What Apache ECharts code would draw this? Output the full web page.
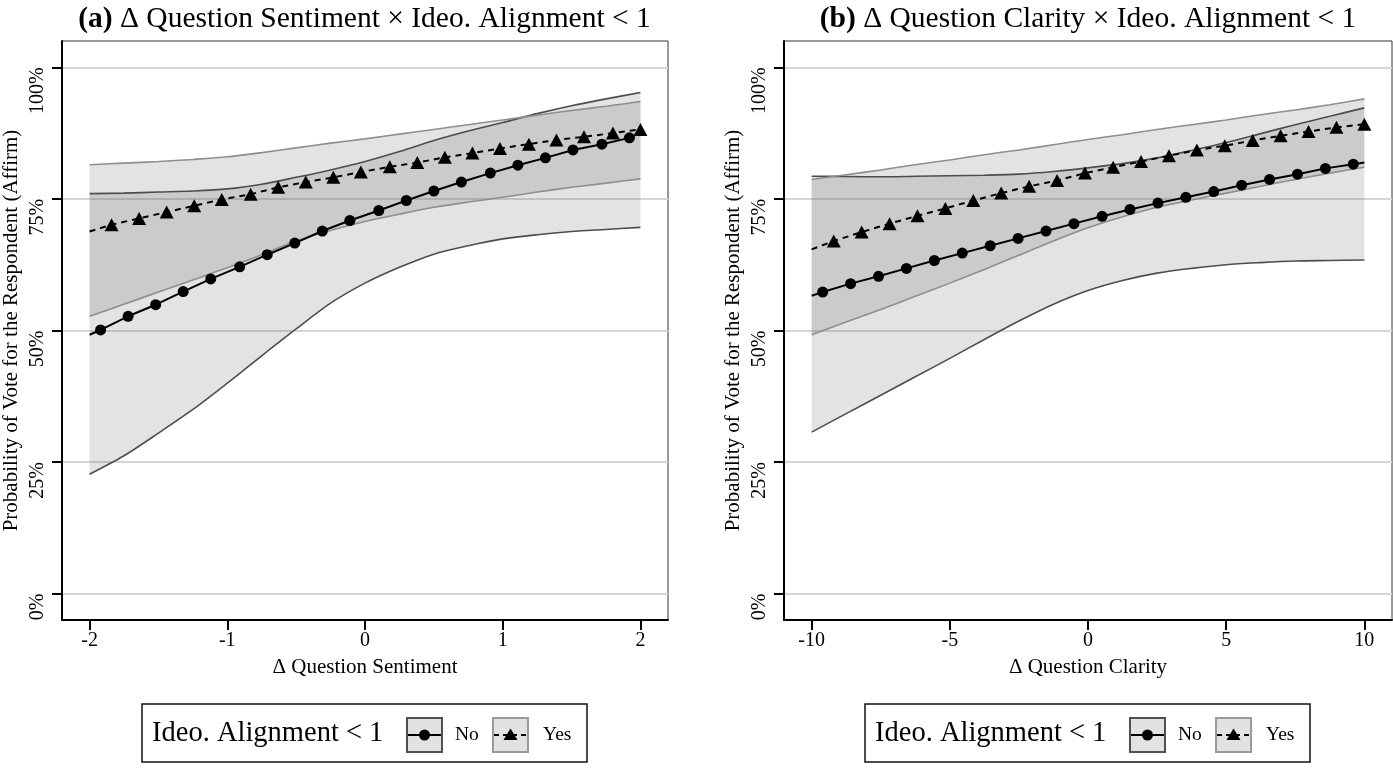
<!DOCTYPE html>
<html>
<head>
<meta charset="utf-8">
<script src="https://cdn.jsdelivr.net/npm/echarts@6/dist/echarts.min.js"></script>
<style>
  html, body { margin: 0; padding: 0; background: #fff; }
  #main { width: 1393px; height: 768px; }
</style>
</head>
<body>
<div id="main"></div>
<script>
// ---- panel (a): Δ Question Sentiment ----
const sentTicks = [-2, -1, 0, 1, 2];
const sentBandX = [-2, -1.75, -1.5, -1.25, -1, -0.75, -0.5, -0.25, 0, 0.25, 0.5, 0.75, 1, 1.25, 1.5, 1.75, 2];
const sentNoLo  = [0.227, 0.262, 0.305, 0.350, 0.400, 0.452, 0.503, 0.552, 0.590, 0.620, 0.645, 0.661, 0.674, 0.682, 0.688, 0.692, 0.696];
const sentNoHi  = [0.760, 0.761, 0.763, 0.765, 0.769, 0.778, 0.791, 0.805, 0.821, 0.840, 0.861, 0.879, 0.895, 0.912, 0.927, 0.940, 0.952];
const sentYesLo = [0.527, 0.550, 0.573, 0.596, 0.619, 0.644, 0.670, 0.690, 0.707, 0.721, 0.734, 0.744, 0.753, 0.763, 0.772, 0.780, 0.788];
const sentYesHi = [0.815, 0.818, 0.821, 0.825, 0.830, 0.838, 0.847, 0.856, 0.864, 0.873, 0.882, 0.891, 0.900, 0.909, 0.918, 0.926, 0.935];
const sentNoX   = [-1.92, -1.72, -1.52, -1.32, -1.12, -0.91, -0.71, -0.51, -0.31, -0.11, 0.10, 0.30, 0.50, 0.70, 0.91, 1.11, 1.31, 1.51, 1.72, 1.92];
const sentNoY   = [0.501, 0.527, 0.549, 0.574, 0.598, 0.621, 0.644, 0.666, 0.689, 0.709, 0.728, 0.747, 0.765, 0.782, 0.799, 0.814, 0.828, 0.843, 0.854, 0.866];
const sentNoEnds = [[-2, 0.492], [2, 0.876]];
const sentYesX  = [-1.84, -1.64, -1.44, -1.24, -1.04, -0.83, -0.63, -0.43, -0.23, -0.03, 0.18, 0.38, 0.58, 0.78, 0.98, 1.19, 1.39, 1.59, 1.80, 2.00];
const sentYesY  = [0.701, 0.713, 0.725, 0.737, 0.749, 0.759, 0.772, 0.782, 0.791, 0.801, 0.811, 0.819, 0.829, 0.837, 0.846, 0.854, 0.862, 0.868, 0.875, 0.882];
const sentYesStart = [-2, 0.688];

// ---- panel (b): Δ Question Clarity ----
const clarTicks = [-10, -5, 0, 5, 10];
const clarBandX = [-10, -8.75, -7.5, -6.25, -5, -3.75, -2.5, -1.25, 0, 1.25, 2.5, 3.75, 5, 6.25, 7.5, 8.75, 10];
const clarNoLo  = [0.307, 0.342, 0.377, 0.412, 0.447, 0.483, 0.518, 0.550, 0.576, 0.595, 0.609, 0.618, 0.625, 0.629, 0.632, 0.633, 0.634];
const clarNoHi  = [0.793, 0.7925, 0.792, 0.793, 0.794, 0.795, 0.797, 0.802, 0.809, 0.817, 0.828, 0.842, 0.857, 0.874, 0.891, 0.907, 0.923];
const clarYesLo = [0.492, 0.516, 0.540, 0.565, 0.590, 0.616, 0.643, 0.670, 0.695, 0.716, 0.734, 0.748, 0.761, 0.774, 0.787, 0.799, 0.810];
const clarYesHi = [0.787, 0.796, 0.805, 0.815, 0.824, 0.834, 0.843, 0.853, 0.863, 0.872, 0.882, 0.891, 0.900, 0.910, 0.919, 0.929, 0.940];
const clarNoX   = [-9.6, -8.59, -7.58, -6.57, -5.56, -4.55, -3.54, -2.53, -1.52, -0.51, 0.51, 1.52, 2.53, 3.54, 4.55, 5.56, 6.57, 7.58, 8.59, 9.6];
const clarNoY   = [0.573, 0.589, 0.603, 0.618, 0.633, 0.647, 0.661, 0.675, 0.689, 0.703, 0.717, 0.730, 0.742, 0.753, 0.764, 0.776, 0.787, 0.797, 0.808, 0.816];
const clarNoEnds = [[-10, 0.566], [10, 0.819]];
const clarYesX  = [-9.2, -8.19, -7.18, -6.17, -5.16, -4.15, -3.14, -2.13, -1.12, -0.11, 0.91, 1.92, 2.93, 3.94, 4.95, 5.96, 6.97, 7.98, 8.99, 10.0];
const clarYesY  = [0.670, 0.687, 0.703, 0.718, 0.732, 0.747, 0.761, 0.774, 0.785, 0.799, 0.810, 0.821, 0.832, 0.843, 0.851, 0.861, 0.870, 0.878, 0.886, 0.892];
const clarYesStart = [-10, 0.654];

const yTicks = [0, 0.25, 0.5, 0.75, 1];

const FONT = '"Liberation Serif", "DejaVu Serif", serif';
const DARK = '#4d4d4d';
const LIGHT = '#8e8e8e';
const FILL = 'rgba(90,90,90,0.17)';

function zip(xs, ys) { return xs.map((x, i) => [x, ys[i]]); }

// confidence band: filled polygon (custom series) + its two bound lines
function band(idx, xs, lo, hi, color) {
  const fill = {
    type: 'custom', xAxisIndex: idx, yAxisIndex: idx, silent: true, z: 1,
    data: xs.map((x, i) => [x, lo[i], hi[i]]),
    encode: { x: 0, y: [1, 2] },
    renderItem: (params, api) => {
      if (params.dataIndex !== 0) return null;
      const top = xs.map((x, i) => api.coord([x, hi[i]]));
      const bot = xs.map((x, i) => api.coord([x, lo[i]])).reverse();
      return { type: 'polygon', shape: { points: top.concat(bot) }, style: { fill: FILL } };
    }
  };
  const edge = ys => ({
    type: 'line', xAxisIndex: idx, yAxisIndex: idx, data: zip(xs, ys),
    symbol: 'none', smooth: 0.3, silent: true, z: 3,
    lineStyle: { color: color, width: 1.6 }
  });
  return [fill, edge(lo), edge(hi)];
}

function noLine(idx, xs, ys, ends) {
  const pts = zip(xs, ys).map(p => ({ value: p }));
  pts.unshift({ value: ends[0], symbol: 'none' });
  pts.push({ value: ends[1], symbol: 'none' });
  return {
    type: 'line', xAxisIndex: idx, yAxisIndex: idx, data: pts, z: 5,
    symbol: 'circle', symbolSize: 11, showAllSymbol: true,
    lineStyle: { color: '#000', width: 2 }, itemStyle: { color: '#000' }
  };
}

function yesLine(idx, xs, ys, start) {
  const pts = zip(xs, ys).map(p => ({ value: p }));
  pts.unshift({ value: start, symbol: 'none' });
  return {
    type: 'line', xAxisIndex: idx, yAxisIndex: idx, data: pts, z: 5,
    symbol: 'triangle', symbolSize: [14, 13], showAllSymbol: true,
    lineStyle: { color: '#000', width: 2, type: [6, 5] }, itemStyle: { color: '#000' }
  };
}

function xAxis(idx, min, max, ticks, name) {
  return {
    type: 'value', gridIndex: idx, min: min, max: max,
    name: name, nameLocation: 'middle', nameGap: 37,
    nameTextStyle: { fontFamily: FONT, fontSize: 21, color: '#000' },
    axisLine: { show: true, onZero: false, lineStyle: { color: '#000', width: 2 } },
    axisTick: { show: true, length: 10, customValues: ticks, lineStyle: { color: '#000', width: 2 } },
    axisLabel: { customValues: ticks, fontFamily: FONT, fontSize: 20, color: '#000', margin: 11 },
    splitLine: { show: false }
  };
}

function yAxis(idx) {
  return {
    type: 'value', gridIndex: idx, min: -0.05, max: 1.05,
    name: 'Probability of Vote for the Respondent (Affirm)',
    nameLocation: 'middle', nameRotate: 90, nameGap: 40,
    nameTextStyle: { fontFamily: FONT, fontSize: 21, color: '#000' },
    axisLine: { show: true, onZero: false, lineStyle: { color: '#000', width: 2 } },
    axisTick: { show: true, length: 10, customValues: yTicks, lineStyle: { color: '#000', width: 2 } },
    axisLabel: {
      customValues: yTicks, rotate: 90, align: 'right', fontFamily: FONT, fontSize: 20,
      color: '#000', margin: 14, formatter: v => Math.round(v * 100) + '%'
    },
    splitLine: { show: true, lineStyle: { color: '#d6d6d6', width: 2 } }
  };
}

function panelTitle(cx, tag, rest) {
  return {
    type: 'text', x: cx, y: 19, silent: true,
    style: {
      text: '{b|' + tag + '} ' + rest, align: 'center', verticalAlign: 'middle',
      fontFamily: FONT, fontSize: 29.5, fill: '#000',
      rich: { b: { fontFamily: FONT, fontSize: 29.5, fontWeight: 'bold', fill: '#000' } }
    }
  };
}

function legendBox(left) {
  const cy = 30;
  return {
    type: 'group', x: left, y: 704, silent: true,
    children: [
      { type: 'rect', shape: { x: 0, y: 0, width: 445, height: 58 }, style: { fill: '#fff', stroke: '#111', lineWidth: 1.5 } },
      { type: 'text', x: 10, y: cy, style: { text: 'Ideo. Alignment < 1', fontFamily: FONT, fontSize: 28.5, fill: '#000', verticalAlign: 'middle' } },
      { type: 'rect', shape: { x: 265, y: 14, width: 35, height: 34 }, style: { fill: '#e2e2e2', stroke: '#505050', lineWidth: 2 } },
      { type: 'line', shape: { x1: 266, y1: cy + 1, x2: 299, y2: cy + 1 }, style: { stroke: '#000', lineWidth: 2 } },
      { type: 'circle', shape: { cx: 282.5, cy: cy + 1, r: 5.5 }, style: { fill: '#000' } },
      { type: 'text', x: 313, y: cy + 1, style: { text: 'No', fontFamily: FONT, fontSize: 19.5, fill: '#000', verticalAlign: 'middle' } },
      { type: 'rect', shape: { x: 351, y: 14, width: 35, height: 34 }, style: { fill: '#e2e2e2', stroke: '#9a9a9a', lineWidth: 2 } },
      { type: 'line', shape: { x1: 352, y1: cy + 1, x2: 385, y2: cy + 1 }, style: { stroke: '#000', lineWidth: 2, lineDash: [5, 4] } },
      { type: 'polygon', shape: { points: [[368.5, cy - 5.5], [375.5, cy + 6], [361.5, cy + 6]] }, style: { fill: '#000' } },
      { type: 'text', x: 401, y: cy + 1, style: { text: 'Yes', fontFamily: FONT, fontSize: 19.5, fill: '#000', verticalAlign: 'middle' } }
    ]
  };
}

const chart = echarts.init(document.getElementById('main'));
chart.setOption({
  animation: false,
  backgroundColor: '#fff',
  grid: [
    { left: 61, top: 41, width: 607, height: 579, show: true, borderColor: '#333', borderWidth: 1, containLabel: false },
    { left: 784, top: 41, width: 608, height: 579, show: true, borderColor: '#333', borderWidth: 1, containLabel: false }
  ],
  xAxis: [
    xAxis(0, -2.2, 2.2, sentTicks, 'Δ Question Sentiment'),
    xAxis(1, -11, 11, clarTicks, 'Δ Question Clarity')
  ],
  yAxis: [yAxis(0), yAxis(1)],
  series: [].concat(
    band(0, sentBandX, sentNoLo, sentNoHi, DARK),
    band(0, sentBandX, sentYesLo, sentYesHi, LIGHT),
    [noLine(0, sentNoX, sentNoY, sentNoEnds), yesLine(0, sentYesX, sentYesY, sentYesStart)],
    band(1, clarBandX, clarNoLo, clarNoHi, DARK),
    band(1, clarBandX, clarYesLo, clarYesHi, LIGHT),
    [noLine(1, clarNoX, clarNoY, clarNoEnds), yesLine(1, clarYesX, clarYesY, clarYesStart)]
  ),
  graphic: [
    panelTitle(364.5, '(a)', 'Δ Question Sentiment × Ideo. Alignment < 1'),
    panelTitle(1088, '(b)', 'Δ Question Clarity × Ideo. Alignment < 1'),
    legendBox(142),
    legendBox(865)
  ]
});
</script>
</body>
</html>
